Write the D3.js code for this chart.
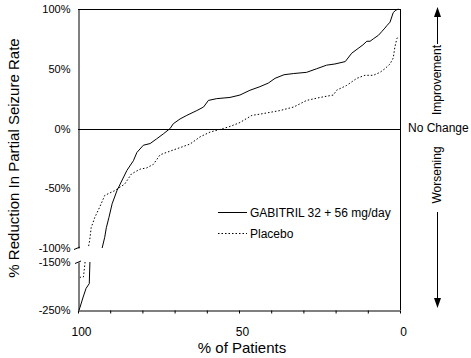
<!DOCTYPE html>
<html>
<head>
<meta charset="utf-8">
<script src="https://cdn.jsdelivr.net/npm/d3@7"></script>
<style>
  html, body { margin: 0; padding: 0; background: #fff; }
  svg { display: block; font-family: "Liberation Sans", Arial, sans-serif; }
</style>
</head>
<body>
<svg id="chart" width="471" height="358"></svg>
<script>
// ---- data: [% of patients, % reduction] ----
const gabitril = [
  [0.5,100],[1.3,99],[2.1,97],[3.1,89],[4.1,86],[4.7,84],[5.7,81],[6.7,78],[8.3,75],[9.3,73],
  [10.3,73],[11.5,70],[13,67],[15,63],[17,56],[20.2,54],[22.8,53],[25.9,50],[29,47],[33,46],
  [36,45],[38.8,42],[40.9,38],[43.5,35],[46.6,32],[49.7,28],[52.8,26],[56.9,25],[59.5,23.5],
  [61,18],[63.1,15],[66.2,11],[68.3,8],[70.4,4],[71.4,0],[73.5,-4.5],[75.6,-8.7],[77.6,-12.6],
  [79.7,-14],[81.7,-20],[82.8,-27],[84.8,-35],[87.9,-52],[89.4,-63],[90.4,-74.5],[91.2,-83],
  [91.7,-91],[92.5,-100],
  [96.3,-150],[96.5,-195],[97.5,-205],[98.5,-225],[99.4,-245],[99.7,-250]
];
const placebo = [
  [0.8,76],[1.0,75],[1.6,68],[2.1,59],[3.1,54],[4.7,50],[6.2,47],[8.3,44.5],[10.9,44.5],
  [13.4,42],[16.6,36],[19.7,32],[20.7,28],[24.8,26],[29,23.5],[33,18],[37.3,15],[43.5,12],
  [46,11],[49.7,5],[52.8,1.7],[54.9,0],[59,-3],[62.1,-7],[65.2,-13],[68.3,-16],[72.5,-20],
  [74.5,-22],[76.6,-30],[78.7,-33],[80.7,-34],[83.4,-38],[85.5,-46.5],[88.6,-52],[91.7,-56],
  [93.3,-66],[94.8,-74.5],[95.9,-83],[96.4,-94],[96.8,-100],
  [97.8,-150],[98.3,-181],[99.4,-182]
];
const xTickValues = [0,10,20,30,40,50,60,70,80,90,100];
const xTickLabels = [100,50,0];
const yTopTicks = [100,50,0,-50,-100];
const yBotTicks = [-150,-250];
const seriesNames = ["GABITRIL 32 + 56 mg/day","Placebo"];

// ---- layout ----
const svg = d3.select("#chart");
const L = 78, R = 400, T = 9, B = 310;
const x = d3.scaleLinear().domain([100,0]).range([L,R]);
const yTop = d3.scaleLinear().domain([-100,100]).range([248,T]);
const yBot = d3.scaleLinear().domain([-250,-150]).range([B,262]);

// frame lines
svg.append("line").attr("x1",L).attr("x2",R).attr("y1",T+0.5).attr("y2",T+0.5).attr("stroke","#000");
svg.append("line").attr("x1",R+0.5).attr("x2",R+0.5).attr("y1",T).attr("y2",B).attr("stroke","#000");
svg.append("line").attr("x1",L).attr("x2",R).attr("y1",Math.round(yTop(0))+0.5).attr("y2",Math.round(yTop(0))+0.5).attr("stroke","#000");

// x axis
const xAxis = d3.axisBottom(x).tickValues(xTickValues).tickSize(3).tickSizeOuter(0)
  .tickFormat(d => xTickLabels.includes(d) ? d : "");
const gx = svg.append("g").attr("transform",`translate(0,${B+0.5})`).call(xAxis);
gx.selectAll("text").attr("font-size",12).attr("fill","#000").attr("dy","1.6em").attr("dx",3);
gx.selectAll("path,line").attr("stroke","#000");

// y axes (broken)
const ayTop = d3.axisLeft(yTop).tickValues(yTopTicks).tickSize(0).tickSizeOuter(0).tickPadding(8).tickFormat(d => d + "%");
const gyt = svg.append("g").attr("transform",`translate(${L+0.5},0)`).call(ayTop);
const ayBot = d3.axisLeft(yBot).tickValues(yBotTicks).tickSize(0).tickSizeOuter(0).tickPadding(8).tickFormat(d => d + "%");
const gyb = svg.append("g").attr("transform",`translate(${L+0.5},0)`).call(ayBot);
[gyt,gyb].forEach(g => {
  g.selectAll("text").attr("font-size",11).attr("fill","#000");
  g.selectAll("path").attr("stroke","#000");
});
// break marks
svg.append("line").attr("x1",L-4).attr("y1",yTop(-100)+1.5).attr("x2",L+2).attr("y2",yTop(-100)-1).attr("stroke","#000");
svg.append("line").attr("x1",L-3).attr("y1",yBot(-150)+1.5).attr("x2",L+3).attr("y2",yBot(-150)-1).attr("stroke","#000");

// lines, split into the upper and lower panels
const line = d3.line().x(d => x(d[0])).y(d => d[1] >= -100 ? yTop(d[1]) : yBot(d[1]));
function draw(data, dash) {
  const up = data.filter(d => d[1] >= -100), lo = data.filter(d => d[1] <= -150);
  [up, lo].forEach(seg => {
    svg.append("path").datum(seg).attr("d", line).attr("fill","none")
      .attr("stroke","#000").attr("stroke-width",1)
      .attr("stroke-dasharray", dash);
  });
}
draw(gabitril, null);
draw(placebo, "1.5,2");

// legend
const lg = svg.append("g");
lg.append("line").attr("x1",218).attr("x2",247).attr("y1",212.5).attr("y2",212.5).attr("stroke","#000");
lg.append("line").attr("x1",218).attr("x2",247).attr("y1",233.5).attr("y2",233.5).attr("stroke","#000").attr("stroke-dasharray","1.5,2");
lg.append("text").attr("x",250).attr("y",216.5).attr("font-size",12).text(seriesNames[0]);
lg.append("text").attr("x",250).attr("y",237.5).attr("font-size",12).text(seriesNames[1]);

// axis titles
svg.append("text").attr("x",242).attr("y",353).attr("text-anchor","middle").attr("font-size",15).text("% of Patients");
svg.append("text").attr("transform","translate(19,158) rotate(-90)").attr("text-anchor","middle").attr("font-size",15)
  .text("% Reduction In Partial Seizure Rate");

// right annotations
const ax = 437;
svg.append("text").attr("transform",`translate(${ax+4},80) rotate(-90)`).attr("text-anchor","middle").attr("font-size",12).text("Improvement");
svg.append("text").attr("transform",`translate(${ax+4},175) rotate(-90)`).attr("text-anchor","middle").attr("font-size",12).text("Worsening");
svg.append("text").attr("x",408).attr("y",132).attr("font-size",12).text("No Change");
svg.append("line").attr("x1",ax+0.5).attr("x2",ax+0.5).attr("y1",44).attr("y2",15).attr("stroke","#000");
svg.append("path").attr("d",`M${ax+0.5},7 L${ax+4},17 L${ax-3},17 Z`).attr("fill","#000");
svg.append("line").attr("x1",ax+0.5).attr("x2",ax+0.5).attr("y1",212).attr("y2",300).attr("stroke","#000");
svg.append("path").attr("d",`M${ax+0.5},308 L${ax+4},298 L${ax-3},298 Z`).attr("fill","#000");
</script>
</body>
</html>
